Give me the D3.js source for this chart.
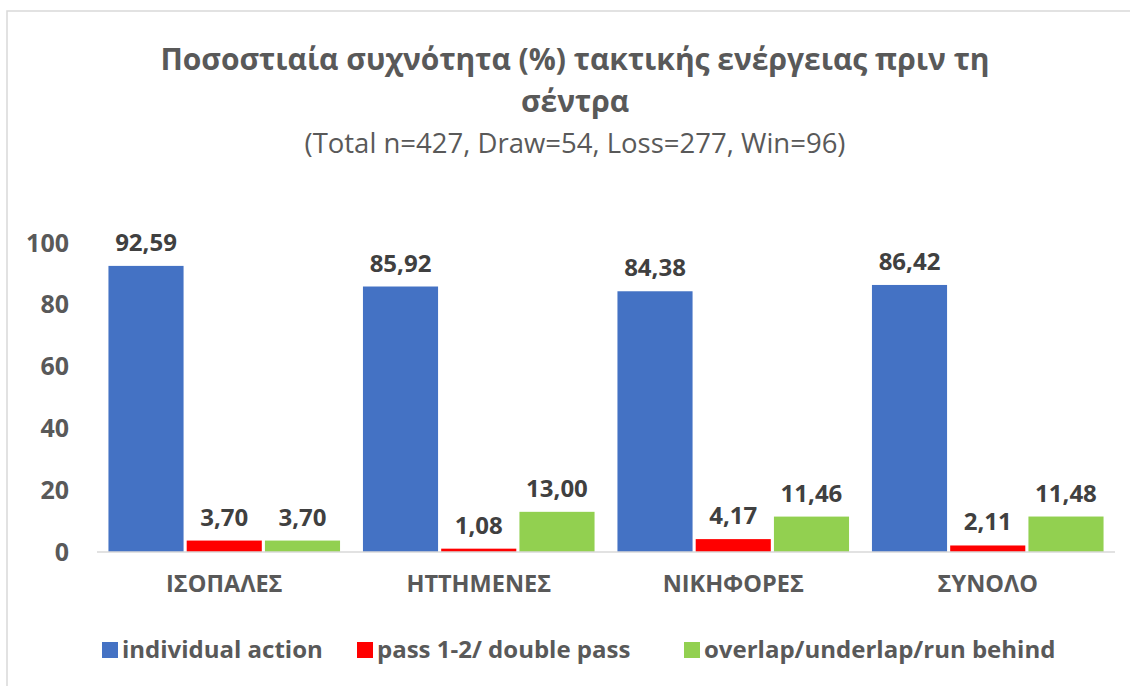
<!DOCTYPE html>
<html>
<head>
<meta charset="utf-8">
<script src="https://cdn.jsdelivr.net/npm/d3@7"></script>
<style>
  body { margin: 0; background: #fff; }
  svg { font-family: "Open Sans", sans-serif; }
  .tick-label, .cat-label, .value-label, .legend-label { font-weight: bold; }
</style>
</head>
<body>
<div id="chart"></div>
<script>
const categories = ["ΙΣΟΠΑΛΕΣ", "ΗΤΤΗΜΕΝΕΣ", "ΝΙΚΗΦΟΡΕΣ", "ΣΥΝΟΛΟ"];
const seriesNames = ["individual action", "pass 1-2/ double pass", "overlap/underlap/run behind"];
const individualAction = [92.59, 85.92, 84.38, 86.42];
const doublePass = [3.70, 1.08, 4.17, 2.11];
const overlap = [3.70, 13.00, 11.46, 11.48];
const yTicks = [0, 20, 40, 60, 80, 100];
const colors = ["#4472C4", "#FF0000", "#92D050"];

const width = 1130, height = 686;
const margin = {top: 243, right: 15, bottom: 134, left: 97};

const svg = d3.select("#chart").append("svg")
    .attr("width", width)
    .attr("height", height);

// chart frame (only top and left edges fall inside the picture)
svg.append("path")
    .attr("d", `M7,${height} V11 H${width}`)
    .attr("fill", "none")
    .attr("stroke", "#D9D9D9")
    .attr("stroke-width", 1.5);

// title
svg.append("text")
    .attr("x", 575).attr("y", 70)
    .attr("text-anchor", "middle")
    .attr("fill", "#595959")
    .style("font-size", "30px").style("font-weight", "bold")
    .text("Ποσοστιαία συχνότητα (%) τακτικής ενέργειας πριν τη");
svg.append("text")
    .attr("x", 575).attr("y", 112)
    .attr("text-anchor", "middle")
    .attr("fill", "#595959")
    .style("font-size", "30px").style("font-weight", "bold")
    .text("σέντρα");
svg.append("text")
    .attr("x", 575).attr("y", 153)
    .attr("text-anchor", "middle")
    .attr("fill", "#595959")
    .style("font-size", "27.5px")
    .text("(Total n=427, Draw=54, Loss=277, Win=96)");

const data = categories.map((c, i) => ({
    category: c,
    values: [individualAction[i], doublePass[i], overlap[i]]
}));

const x0 = d3.scaleBand()
    .domain(categories)
    .range([margin.left, width - margin.right])
    .paddingInner(0.09)
    .paddingOuter(0.045);

const x1 = d3.scaleBand()
    .domain(d3.range(seriesNames.length))
    .range([0, x0.bandwidth()])
    .paddingInner(0.04);

const y = d3.scaleLinear()
    .domain([0, 100])
    .range([height - margin.bottom, margin.top]);

// y axis labels
const yAxis = svg.append("g")
    .attr("transform", `translate(${margin.left - 28},0)`)
    .call(d3.axisLeft(y).tickValues(yTicks).tickSize(0).tickPadding(0));
yAxis.select(".domain").remove();
yAxis.selectAll("text")
    .attr("class", "tick-label")
    .attr("fill", "#595959")
    .style("font-size", "25px")
    .style("font-family", "Open Sans, sans-serif");

// bars
const groups = svg.selectAll(".group")
    .data(data)
    .enter()
    .append("g")
    .attr("class", "group")
    .attr("transform", d => `translate(${x0(d.category)},0)`);

groups.selectAll("rect")
    .data(d => d.values)
    .enter()
    .append("rect")
    .attr("x", (d, i) => x1(i))
    .attr("y", d => y(d))
    .attr("width", x1.bandwidth())
    .attr("height", d => y(0) - y(d))
    .attr("fill", (d, i) => colors[i]);

groups.selectAll(".value-label")
    .data(d => d.values)
    .enter()
    .append("text")
    .attr("class", "value-label")
    .attr("x", (d, i) => x1(i) + x1.bandwidth() / 2)
    .attr("y", d => y(d) - 15)
    .attr("text-anchor", "middle")
    .attr("fill", "#404040")
    .style("font-size", "24px")
    .text(d => d3.format(".2f")(d).replace(".", ","));

// x axis line
svg.append("line")
    .attr("x1", margin.left).attr("x2", width - margin.right)
    .attr("y1", y(0)).attr("y2", y(0))
    .attr("stroke", "#D9D9D9")
    .attr("stroke-width", 1.5);

const xAxis = svg.append("g")
    .attr("transform", `translate(0,${y(0)})`)
    .call(d3.axisBottom(x0).tickSize(0).tickPadding(23));
xAxis.select(".domain").remove();
xAxis.selectAll("text")
    .attr("class", "cat-label")
    .attr("fill", "#595959")
    .style("font-size", "23.5px")
    .style("font-family", "Open Sans, sans-serif");

// legend
const legendItemsX = [102, 357, 684];
const legend = svg.selectAll(".legend")
    .data(seriesNames)
    .enter()
    .append("g")
    .attr("class", "legend")
    .attr("transform", (d, i) => `translate(${legendItemsX[i]},650)`);
legend.append("rect")
    .attr("x", 0).attr("y", -8)
    .attr("width", 16).attr("height", 16)
    .attr("fill", (d, i) => colors[i]);
legend.append("text")
    .attr("class", "legend-label")
    .attr("x", 20).attr("y", 8)
    .attr("fill", "#595959")
    .style("font-size", "24px")
    .text(d => d);
</script>
</body>
</html>
